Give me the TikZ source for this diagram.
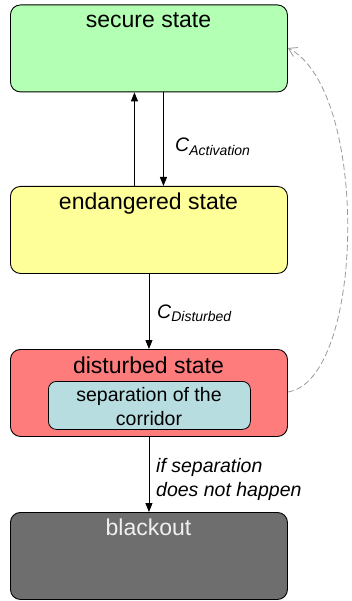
\documentclass[tikz,border=0pt]{standalone}
\usepackage{fontspec}
\setmainfont{Liberation Sans}
\usetikzlibrary{arrows.meta}
\definecolor{securefill}{HTML}{B3FFB3}
\definecolor{endfill}{HTML}{FFFF99}
\definecolor{distfill}{HTML}{FF7C7C}
\definecolor{innerfill}{HTML}{B7DDE0}
\definecolor{blackfill}{HTML}{6E6E6E}
\definecolor{dashgray}{HTML}{9A9A9A}
\tikzset{
  statebox/.style={draw=black, line width=0.9pt, rounded corners=10pt, minimum width=277pt, minimum height=87pt, inner sep=0pt, anchor=north west},
  innerbox/.style={draw=black, line width=0.8pt, rounded corners=8pt, minimum width=202pt, minimum height=48pt, inner sep=0pt, anchor=north west, fill=innerfill},
  title/.style={anchor=base, inner sep=0pt, font=\fontsize{23}{27}\selectfont},
  small/.style={anchor=base, inner sep=0pt, font=\fontsize{19.5}{23}\selectfont},
  flow/.style={-{Triangle[length=9pt,width=7pt]}, line width=0.8pt},
  lbl/.style={anchor=base west, inner sep=0pt}
}
\begin{document}
\begin{tikzpicture}[x=1pt,y=-1pt]
\useasboundingbox (0,0) rectangle (352,601);
\node[statebox, fill=securefill] (secure) at (10,4.5) {};
\node[statebox, fill=endfill] (endangered) at (10,186) {};
\node[statebox, fill=distfill] (disturbed) at (10,349) {};
\node[statebox, fill=blackfill] (blackout) at (10,512) {};
\node[innerbox] (inner) at (48,381) {};

\node[title] (tsecure) at (148.5,28) {secure state};
\node[title] (tend) at (148.5,210) {endangered state};
\node[title] (tdist) at (148.5,373) {disturbed state};
\node[title, text=white!94!black] (tblack) at (148.5,535) {blackout};
\node[small] (tin1) at (149,401) {separation of the};
\node[small] (tin2) at (149,425) {corridor};

\draw[flow] ([xshift=-14.5pt]endangered.north) -- ([xshift=-14.5pt]secure.south);
\draw[flow] ([xshift=14.5pt]secure.south) -- ([xshift=14.5pt]endangered.north);
\draw[flow] (endangered.south) -- (disturbed.north);
\draw[flow] (disturbed.south) -- (blackout.north);

\node[lbl] (cact) at (175,152) {\fontsize{19.5}{23}\selectfont\itshape C\raisebox{-3.5pt}{\fontsize{14}{16}\selectfont Activation}};
\node[lbl] (cdist) at (157,318) {\fontsize{19.5}{23}\selectfont\itshape C\raisebox{-3.5pt}{\fontsize{14}{16}\selectfont Disturbed}};
\node[lbl, font=\fontsize{19.5}{23}\selectfont\itshape] (if1) at (156,472) {if separation};
\node[lbl, font=\fontsize{19.5}{23}\selectfont\itshape] (if2) at (156,496) {does not happen};

\coordinate (dstart) at (disturbed.east |- 0,392);
\coordinate (dend) at (secure.east |- 0,48);
\draw[dashgray, dashed, dash pattern=on 6pt off 3pt, line width=0.8pt, -{Straight Barb[length=8pt,width=10pt]}]
  (dstart) .. controls (365,380) and (370,90) .. (dend);
\end{tikzpicture}
\end{document}
